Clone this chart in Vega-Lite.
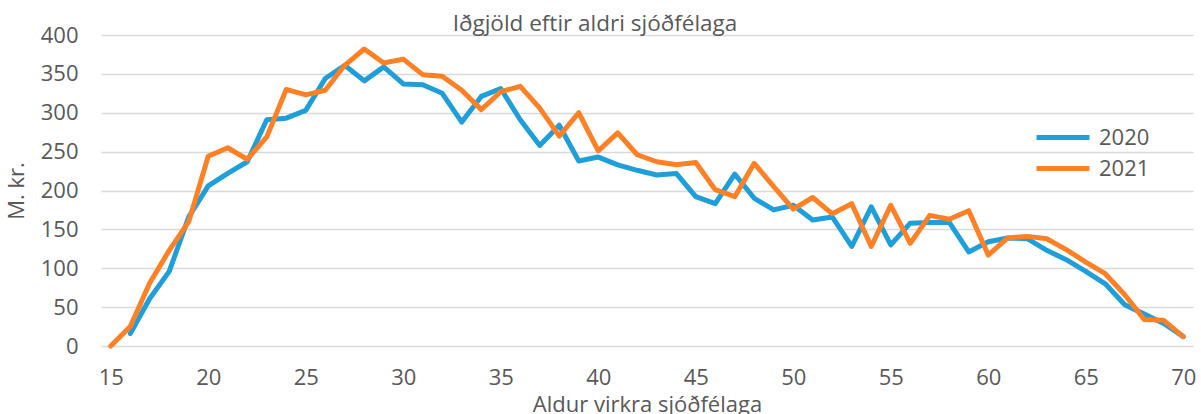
{
  "$schema": "https://vega.github.io/schema/vega-lite/v6.json",
  "width": 1092,
  "height": 311,
  "autosize": {"type": "none"},
  "padding": {"left": 101, "top": 35, "right": 8, "bottom": 68},
  "background": "white",
  "config": {"view": {"stroke": null}, "font": "Open Sans"},
  "title": {
    "text": "Iðgjöld eftir aldri sjóðfélaga",
    "fontSize": 22.5,
    "fontWeight": "normal",
    "color": "#595959",
    "anchor": "middle",
    "frame": "group",
    "dx": -52,
    "offset": -11
  },
  "datasets": {
    "d": [
      {"a": 16, "s": "2020", "v": 16}, {"a": 17, "s": "2020", "v": 61}, {"a": 18, "s": "2020", "v": 96}, {"a": 19, "s": "2020", "v": 166},
      {"a": 20, "s": "2020", "v": 206}, {"a": 21, "s": "2020", "v": 222}, {"a": 22, "s": "2020", "v": 237}, {"a": 23, "s": "2020", "v": 291},
      {"a": 24, "s": "2020", "v": 293}, {"a": 25, "s": "2020", "v": 303}, {"a": 26, "s": "2020", "v": 344}, {"a": 27, "s": "2020", "v": 361},
      {"a": 28, "s": "2020", "v": 341}, {"a": 29, "s": "2020", "v": 359}, {"a": 30, "s": "2020", "v": 337}, {"a": 31, "s": "2020", "v": 336},
      {"a": 32, "s": "2020", "v": 325}, {"a": 33, "s": "2020", "v": 288}, {"a": 34, "s": "2020", "v": 321}, {"a": 35, "s": "2020", "v": 331},
      {"a": 36, "s": "2020", "v": 291}, {"a": 37, "s": "2020", "v": 258}, {"a": 38, "s": "2020", "v": 284}, {"a": 39, "s": "2020", "v": 238},
      {"a": 40, "s": "2020", "v": 243}, {"a": 41, "s": "2020", "v": 233}, {"a": 42, "s": "2020", "v": 226}, {"a": 43, "s": "2020", "v": 220},
      {"a": 44, "s": "2020", "v": 222}, {"a": 45, "s": "2020", "v": 192}, {"a": 46, "s": "2020", "v": 183}, {"a": 47, "s": "2020", "v": 221},
      {"a": 48, "s": "2020", "v": 190}, {"a": 49, "s": "2020", "v": 175}, {"a": 50, "s": "2020", "v": 181}, {"a": 51, "s": "2020", "v": 162},
      {"a": 52, "s": "2020", "v": 166}, {"a": 53, "s": "2020", "v": 128}, {"a": 54, "s": "2020", "v": 179}, {"a": 55, "s": "2020", "v": 130},
      {"a": 56, "s": "2020", "v": 158}, {"a": 57, "s": "2020", "v": 159}, {"a": 58, "s": "2020", "v": 159}, {"a": 59, "s": "2020", "v": 121},
      {"a": 60, "s": "2020", "v": 134}, {"a": 61, "s": "2020", "v": 139}, {"a": 62, "s": "2020", "v": 138}, {"a": 63, "s": "2020", "v": 123},
      {"a": 64, "s": "2020", "v": 111}, {"a": 65, "s": "2020", "v": 96}, {"a": 66, "s": "2020", "v": 80}, {"a": 67, "s": "2020", "v": 53},
      {"a": 68, "s": "2020", "v": 41}, {"a": 69, "s": "2020", "v": 29}, {"a": 70, "s": "2020", "v": 12},
      {"a": 15, "s": "2021", "v": 0}, {"a": 16, "s": "2021", "v": 25}, {"a": 17, "s": "2021", "v": 81}, {"a": 18, "s": "2021", "v": 123},
      {"a": 19, "s": "2021", "v": 160}, {"a": 20, "s": "2021", "v": 244}, {"a": 21, "s": "2021", "v": 255}, {"a": 22, "s": "2021", "v": 240},
      {"a": 23, "s": "2021", "v": 269}, {"a": 24, "s": "2021", "v": 330}, {"a": 25, "s": "2021", "v": 323}, {"a": 26, "s": "2021", "v": 329},
      {"a": 27, "s": "2021", "v": 361}, {"a": 28, "s": "2021", "v": 382}, {"a": 29, "s": "2021", "v": 364}, {"a": 30, "s": "2021", "v": 369},
      {"a": 31, "s": "2021", "v": 349}, {"a": 32, "s": "2021", "v": 347}, {"a": 33, "s": "2021", "v": 329}, {"a": 34, "s": "2021", "v": 304},
      {"a": 35, "s": "2021", "v": 327}, {"a": 36, "s": "2021", "v": 334}, {"a": 37, "s": "2021", "v": 306}, {"a": 38, "s": "2021", "v": 270},
      {"a": 39, "s": "2021", "v": 300}, {"a": 40, "s": "2021", "v": 251}, {"a": 41, "s": "2021", "v": 274}, {"a": 42, "s": "2021", "v": 246},
      {"a": 43, "s": "2021", "v": 237}, {"a": 44, "s": "2021", "v": 233}, {"a": 45, "s": "2021", "v": 236}, {"a": 46, "s": "2021", "v": 201},
      {"a": 47, "s": "2021", "v": 192}, {"a": 48, "s": "2021", "v": 235}, {"a": 49, "s": "2021", "v": 205}, {"a": 50, "s": "2021", "v": 176},
      {"a": 51, "s": "2021", "v": 191}, {"a": 52, "s": "2021", "v": 170}, {"a": 53, "s": "2021", "v": 183}, {"a": 54, "s": "2021", "v": 128},
      {"a": 55, "s": "2021", "v": 181}, {"a": 56, "s": "2021", "v": 132}, {"a": 57, "s": "2021", "v": 168}, {"a": 58, "s": "2021", "v": 163},
      {"a": 59, "s": "2021", "v": 174}, {"a": 60, "s": "2021", "v": 117}, {"a": 61, "s": "2021", "v": 139}, {"a": 62, "s": "2021", "v": 141},
      {"a": 63, "s": "2021", "v": 138}, {"a": 64, "s": "2021", "v": 124}, {"a": 65, "s": "2021", "v": 108}, {"a": 66, "s": "2021", "v": 93},
      {"a": 67, "s": "2021", "v": 66}, {"a": 68, "s": "2021", "v": 34}, {"a": 69, "s": "2021", "v": 33}, {"a": 70, "s": "2021", "v": 12}
    ]
  },
  "data": {"name": "d"},
  "mark": {"type": "line", "strokeWidth": 5, "strokeJoin": "round", "strokeCap": "round"},
  "encoding": {
    "x": {
      "field": "a",
      "type": "quantitative",
      "scale": {"domain": [14.5, 70.5], "nice": false, "zero": false},
      "axis": {
        "title": "Aldur virkra sjóðfélaga",
        "values": [15, 20, 25, 30, 35, 40, 45, 50, 55, 60, 65, 70],
        "grid": false,
        "domain": false,
        "ticks": false,
        "labelFontSize": 22,
        "labelColor": "#595959",
        "labelPadding": 21,
        "titleFontSize": 22,
        "titleFontWeight": "normal",
        "titleColor": "#595959",
        "titlePadding": 6
      }
    },
    "y": {
      "field": "v",
      "type": "quantitative",
      "scale": {"domain": [0, 400], "nice": false},
      "axis": {
        "title": "M. kr.",
        "values": [0, 50, 100, 150, 200, 250, 300, 350, 400],
        "grid": true,
        "gridColor": "#d9d9d9",
        "gridWidth": 1.5,
        "domain": false,
        "ticks": false,
        "labelFontSize": 22,
        "labelColor": "#595959",
        "labelPadding": 23,
        "titleFontSize": 22,
        "titleFontWeight": "normal",
        "titleColor": "#595959",
        "titlePadding": 12
      }
    },
    "color": {
      "field": "s",
      "type": "nominal",
      "scale": {"domain": ["2020", "2021"], "range": ["#1E9FD9", "#FF8025"]},
      "legend": {
        "title": null,
        "orient": "none",
        "legendX": 933,
        "legendY": 87,
        "symbolType": "stroke",
        "symbolSize": 2800,
        "symbolStrokeWidth": 5,
        "labelFontSize": 22,
        "labelColor": "#595959",
        "labelOffset": 7,
        "clipHeight": 31,
        "rowPadding": 0
      }
    }
  }
}
